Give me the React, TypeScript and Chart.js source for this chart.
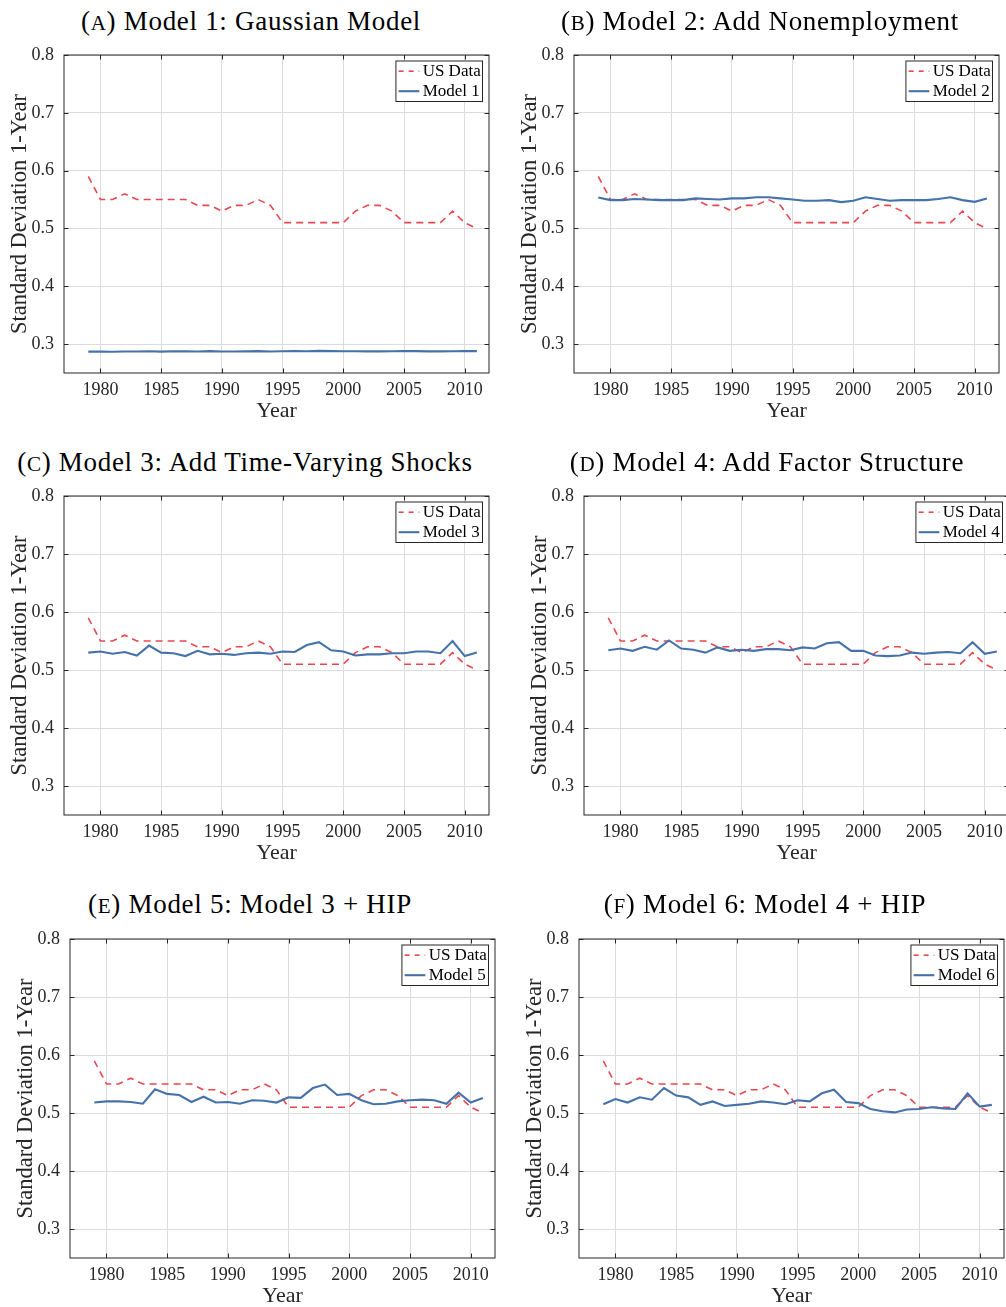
import React, { useEffect, useRef } from 'react';
import { Chart, registerables } from 'chart.js';

Chart.register(...registerables);

// ---------------- data ----------------
const years = [
  1979, 1980, 1981, 1982, 1983, 1984, 1985, 1986, 1987, 1988, 1989,
  1990, 1991, 1992, 1993, 1994, 1995, 1996, 1997, 1998, 1999, 2000,
  2001, 2002, 2003, 2004, 2005, 2006, 2007, 2008, 2009, 2010, 2011,
];

const usData = [
  0.59, 0.55, 0.55, 0.56, 0.55, 0.55, 0.55, 0.55, 0.55, 0.54, 0.54,
  0.53, 0.54, 0.54, 0.55, 0.54, 0.51, 0.51, 0.51, 0.51, 0.51, 0.51,
  0.53, 0.54, 0.54, 0.53, 0.51, 0.51, 0.51, 0.51, 0.53, 0.51, 0.50,
];

const model1 = [
  0.287, 0.287, 0.2868, 0.2872, 0.2872, 0.2875, 0.287, 0.2875, 0.2874, 0.2872, 0.2878,
  0.2872, 0.2872, 0.2874, 0.2878, 0.2872, 0.2876, 0.2878, 0.2876, 0.2882, 0.2878, 0.2876,
  0.2876, 0.2874, 0.2874, 0.2876, 0.2878, 0.2878, 0.2874, 0.2874, 0.2876, 0.2878, 0.2878,
];

const model2 = [
  0.5535, 0.549, 0.549, 0.551, 0.55, 0.549, 0.549, 0.549, 0.552, 0.551, 0.55,
  0.552, 0.552, 0.554, 0.554, 0.552, 0.55, 0.548, 0.548, 0.549, 0.5455, 0.548,
  0.554, 0.551, 0.548, 0.549, 0.549, 0.549, 0.551, 0.554, 0.549, 0.546, 0.552,
];

const model3 = [
  0.53, 0.532, 0.528, 0.531, 0.525, 0.542, 0.53, 0.529, 0.524, 0.533, 0.527,
  0.528, 0.526, 0.529, 0.53, 0.528, 0.532, 0.531, 0.543, 0.548, 0.534, 0.532,
  0.525, 0.527, 0.527, 0.529, 0.529, 0.532, 0.532, 0.529, 0.55, 0.524, 0.53,
];

const model4 = [
  0.534, 0.537, 0.533, 0.54, 0.535, 0.551, 0.537, 0.535, 0.53, 0.539, 0.533,
  0.535, 0.533, 0.536, 0.536, 0.534, 0.539, 0.537, 0.546, 0.548, 0.533, 0.533,
  0.525, 0.524, 0.525, 0.53, 0.528, 0.53, 0.531, 0.529, 0.548, 0.528, 0.532,
];

const model5 = [
  0.518, 0.52, 0.52, 0.519, 0.516, 0.541, 0.533, 0.531, 0.519, 0.528, 0.518,
  0.519, 0.516, 0.522, 0.521, 0.518, 0.527, 0.526, 0.543, 0.549, 0.531, 0.533,
  0.522, 0.515, 0.516, 0.52, 0.522, 0.523, 0.522, 0.516, 0.535, 0.518, 0.526,
];

const model6 = [
  0.515, 0.524, 0.518, 0.527, 0.523, 0.543, 0.53, 0.527, 0.514, 0.52, 0.512,
  0.514, 0.516, 0.52, 0.518, 0.515, 0.522, 0.52, 0.534, 0.54, 0.519, 0.517,
  0.507, 0.503, 0.501, 0.506, 0.507, 0.51, 0.508, 0.507, 0.534, 0.511, 0.514,
];

const xTickValues = [1980, 1985, 1990, 1995, 2000, 2005, 2010];
const yTickValues = [0.3, 0.4, 0.5, 0.6, 0.7, 0.8];

const panelLetters = ['A', 'B', 'C', 'D', 'E', 'F'];
const panelTitles = [
  'Model 1: Gaussian Model',
  'Model 2: Add Nonemployment',
  'Model 3: Add Time-Varying Shocks',
  'Model 4: Add Factor Structure',
  'Model 5: Model 3 + HIP',
  'Model 6: Model 4 + HIP',
];
const modelLabels = ['Model 1', 'Model 2', 'Model 3', 'Model 4', 'Model 5', 'Model 6'];
const modelSeries = [model1, model2, model3, model4, model5, model6];

// ---------------- layout / style ----------------
const FONT = '"Liberation Serif", "Times New Roman", Times, serif';
const RED = '#e8474f';
const BLUE = '#4672ab';
const AXIS = '#262626';
const GRID = '#dcdcdc';

const YW = 70; // y-axis box width
const PT = 24; // top padding (>= y tick label overflow)
const PR = 8; // right padding
const XH = 52; // x-axis box height

type Rect = { l: number; t: number; r: number; b: number };
const plotRects: Rect[] = [
  { l: 64, t: 55, r: 489, b: 373 },
  { l: 573.5, t: 55, r: 998.5, b: 373 },
  { l: 64, t: 496, r: 489, b: 815 },
  { l: 584, t: 496, r: 1009, b: 815 },
  { l: 69.5, t: 939, r: 494.5, b: 1258 },
  { l: 578.5, t: 939, r: 1003.5, b: 1258 },
];
const titleCenters = [
  [251, 21],
  [760, 21],
  [245, 462],
  [767, 462],
  [250, 904],
  [765, 904],
];

const framePlugin = {
  id: 'frame',
  afterDatasetsDraw(chart: any) {
    const { ctx, chartArea } = chart;
    const { left, top, right, bottom } = chartArea;
    const xs = chart.scales.x;
    const ys = chart.scales.y;
    ctx.save();
    ctx.strokeStyle = AXIS;
    ctx.lineWidth = 1;
    ctx.setLineDash([]);
    ctx.beginPath();
    xTickValues.forEach((v) => {
      const px = Math.round(xs.getPixelForValue(v)) + 0.5;
      ctx.moveTo(px, bottom);
      ctx.lineTo(px, bottom - 4.5);
      ctx.moveTo(px, top);
      ctx.lineTo(px, top + 4.5);
    });
    yTickValues.forEach((v) => {
      const py = Math.round(ys.getPixelForValue(v)) + 0.5;
      ctx.moveTo(left, py);
      ctx.lineTo(left + 4.5, py);
      ctx.moveTo(right, py);
      ctx.lineTo(right - 4.5, py);
    });
    ctx.stroke();
    ctx.strokeRect(left, top, right - left, bottom - top);
    ctx.restore();
  },
};

const legendPlugin = {
  id: 'insetLegend',
  afterDraw(chart: any) {
    const { ctx, chartArea } = chart;
    const items = chart.data.datasets;
    ctx.save();
    ctx.font = `17px ${FONT}`;
    const tw = Math.max(...items.map((d: any) => ctx.measureText(d.label).width));
    const w = 2.7 + 20.7 + 3.3 + tw + 1.8;
    const h = 40.5;
    const x0 = chartArea.right - 6.5 - w;
    const y0 = chartArea.top + 6;
    ctx.fillStyle = '#ffffff';
    ctx.fillRect(x0, y0, w, h);
    ctx.strokeStyle = AXIS;
    ctx.lineWidth = 1;
    ctx.strokeRect(x0, y0, w, h);
    items.forEach((d: any, i: number) => {
      const cy = y0 + 10.2 + i * 20;
      ctx.beginPath();
      ctx.strokeStyle = d.borderColor;
      ctx.lineWidth = d.borderWidth;
      ctx.setLineDash(d.borderDash ? [5, 5] : []);
      ctx.moveTo(x0 + 2.7, cy);
      ctx.lineTo(x0 + 23.4, cy);
      ctx.stroke();
      ctx.setLineDash([]);
      ctx.fillStyle = '#000000';
      ctx.textBaseline = 'middle';
      ctx.textAlign = 'left';
      ctx.fillText(d.label, x0 + 26.7, cy + 0.5);
    });
    ctx.restore();
  },
};

function toPoints(values: number[]) {
  return years.map((yr, i) => ({ x: yr, y: values[i] }));
}

function Panel({ idx }: { idx: number }) {
  const ref = useRef<HTMLCanvasElement>(null);
  const rect = plotRects[idx];
  const cl = rect.l - YW;
  const ct = rect.t - PT;
  const cw = YW + (rect.r - rect.l) + PR;
  const ch = PT + (rect.b - rect.t) + XH;

  useEffect(() => {
    if (!ref.current) return;
    const tickFont = { family: FONT, size: 18 };
    const yTitleFont = { family: FONT, size: 22.5 };
    const xTitleFont = { family: FONT, size: 22 };
    const chart = new Chart(ref.current, {
      type: 'line',
      data: {
        datasets: [
          {
            label: 'US Data',
            data: toPoints(usData),
            borderColor: RED,
            backgroundColor: RED,
            borderWidth: 1.6,
            borderDash: [7, 5],
            pointRadius: 0,
            tension: 0,
            fill: false,
            order: 1,
          },
          {
            label: modelLabels[idx],
            data: toPoints(modelSeries[idx]),
            borderColor: BLUE,
            backgroundColor: BLUE,
            borderWidth: 2.1,
            pointRadius: 0,
            tension: 0,
            fill: false,
            order: 0,
          },
        ],
      },
      options: {
        animation: false,
        responsive: false,
        maintainAspectRatio: false,
        devicePixelRatio: 1,
        layout: { padding: { top: PT, right: PR, left: 0, bottom: 0 } },
        plugins: {
          legend: { display: false },
          tooltip: { enabled: false },
          title: { display: false },
        },
        scales: {
          x: {
            type: 'linear',
            min: 1977,
            max: 2012,
            afterBuildTicks: (s: any) => {
              s.ticks = xTickValues.map((v) => ({ value: v }));
            },
            afterFit: (s: any) => {
              s.height = XH;
            },
            grid: { color: GRID, lineWidth: 1, drawTicks: false },
            border: { display: false },
            ticks: {
              font: tickFont,
              color: AXIS,
              padding: 6,
              maxRotation: 0,
              autoSkip: false,
              callback: (v: any) => String(v),
            },
            title: {
              display: true,
              text: 'Year',
              font: xTitleFont,
              color: AXIS,
              padding: { top: 0, bottom: 0.8 },
            },
          },
          y: {
            type: 'linear',
            min: 0.25,
            max: 0.8,
            afterBuildTicks: (s: any) => {
              s.ticks = yTickValues.map((v) => ({ value: v }));
            },
            afterFit: (s: any) => {
              s.width = YW;
            },
            grid: { color: GRID, lineWidth: 1, drawTicks: false },
            border: { display: false },
            ticks: {
              font: tickFont,
              color: AXIS,
              padding: 10,
              autoSkip: false,
              callback: (v: any) => Number(v).toFixed(1),
            },
            title: {
              display: true,
              text: 'Standard Deviation 1-Year',
              font: yTitleFont,
              color: AXIS,
              padding: { top: 13, bottom: 0 },
            },
          },
        },
      } as any,
      plugins: [framePlugin, legendPlugin],
    });
    return () => chart.destroy();
  }, [idx]);

  const [tx, ty] = titleCenters[idx];
  return (
    <>
      <div
        style={{
          position: 'absolute',
          left: tx - 300,
          top: ty - 17,
          width: 600,
          height: 34,
          lineHeight: '34px',
          textAlign: 'center',
          fontFamily: FONT,
          fontSize: 27,
          letterSpacing: 0.7,
          color: '#000',
          whiteSpace: 'nowrap',
        }}
      >
        (<span style={{ fontSize: '0.78em' }}>{panelLetters[idx]}</span>) {panelTitles[idx]}
      </div>
      <canvas
        ref={ref}
        width={cw}
        height={ch}
        style={{ position: 'absolute', left: cl, top: ct, width: cw, height: ch }}
      />
    </>
  );
}

export default function App() {
  return (
    <div
      style={{
        position: 'fixed',
        left: 0,
        top: 0,
        width: 1006,
        height: 1307,
        overflow: 'hidden',
        background: '#ffffff',
      }}
    >
      {[0, 1, 2, 3, 4, 5].map((i) => (
        <Panel key={i} idx={i} />
      ))}
    </div>
  );
}
